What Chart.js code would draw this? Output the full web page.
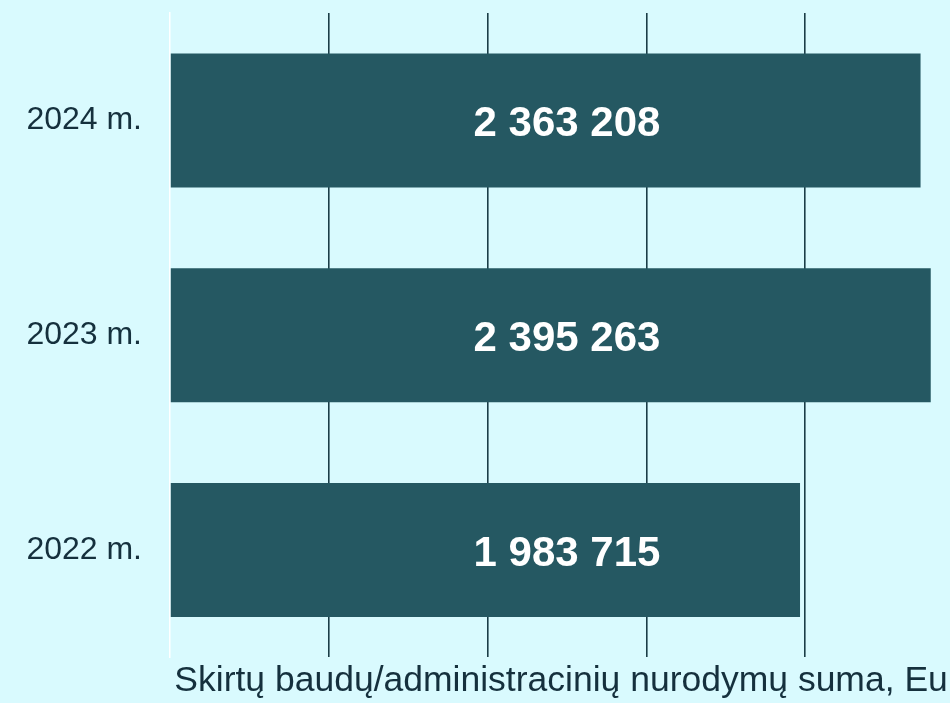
<!DOCTYPE html>
<html lang="lt">
<head>
<meta charset="utf-8">
<script src="https://cdn.jsdelivr.net/npm/chart.js@4/dist/chart.umd.min.js"></script>
<style>
  html, body { margin: 0; padding: 0; background: #d9fafe; overflow: hidden; }
  #wrap { width: 966px; height: 703px; position: relative; }
</style>
</head>
<body>
<div id="wrap"><canvas id="finesChart"></canvas></div>
<script>
// Data
const years = ['2024 m.', '2023 m.', '2022 m.'];
const fineTotals = [2363208, 2395263, 1983715];
const axisTitle = 'Skirtų baudų/administracinių nurodymų suma, Eur';

const barColor = '#255862';
const gridColor = '#1b3d47';
const textColor = '#15303d';

function spaced(n) {
    return String(n).replace(/\B(?=(\d{3})+(?!\d))/g, ' ');
}

// Value labels sit in the middle of the plot area, on each bar's row
const valueLabels = {
    id: 'valueLabels',
    afterDatasetsDraw(chart) {
        const { ctx, chartArea } = chart;
        const meta = chart.getDatasetMeta(0);
        const cx = (chartArea.left + chartArea.right) / 2;
        ctx.save();
        ctx.font = 'bold 42px "Liberation Sans", Arial, sans-serif';
        ctx.fillStyle = '#ffffff';
        ctx.textAlign = 'center';
        ctx.textBaseline = 'middle';
        meta.data.forEach((bar, i) => {
            ctx.fillText(spaced(fineTotals[i]), cx, bar.y + 4);
        });
        ctx.restore();
    }
};

new Chart(document.getElementById('finesChart'), {
    type: 'bar',
    data: {
        labels: years,
        datasets: [{
            data: fineTotals,
            backgroundColor: barColor,
            borderWidth: 0,
            categoryPercentage: 1,
            barPercentage: 0.624
        }]
    },
    options: {
        indexAxis: 'y',
        responsive: true,
        maintainAspectRatio: false,
        animation: false,
        layout: { padding: { top: 13, right: 2, left: 0, bottom: 0 } },
        plugins: {
            legend: { display: false },
            tooltip: { enabled: false }
        },
        scales: {
            x: {
                min: 0,
                max: 2500000,
                ticks: { display: false, stepSize: 500000 },
                grid: {
                    drawTicks: false,
                    lineWidth: 1.6,
                    color: ctx => ctx.tick && ctx.tick.value === 0 ? 'rgba(0,0,0,0)' : gridColor
                },
                border: { display: false },
                title: {
                    display: true,
                    text: axisTitle,
                    color: textColor,
                    font: { family: '"Liberation Sans", Arial, sans-serif', size: 35.5 },
                    padding: { top: 3, bottom: 0 }
                }
            },
            y: {
                grid: { display: false, drawTicks: false },
                border: { display: true, color: '#ffffff', width: 1.5 },
                ticks: {
                    color: textColor,
                    padding: 28,
                    font: { family: '"Liberation Sans", Arial, sans-serif', size: 32 }
                },
                afterFit(scale) {
                    scale.width = 170;
                    scale.paddingTop = 0;
                    scale.paddingBottom = 0;
                }
            }
        }
    },
    plugins: [valueLabels]
});
</script>
</body>
</html>
